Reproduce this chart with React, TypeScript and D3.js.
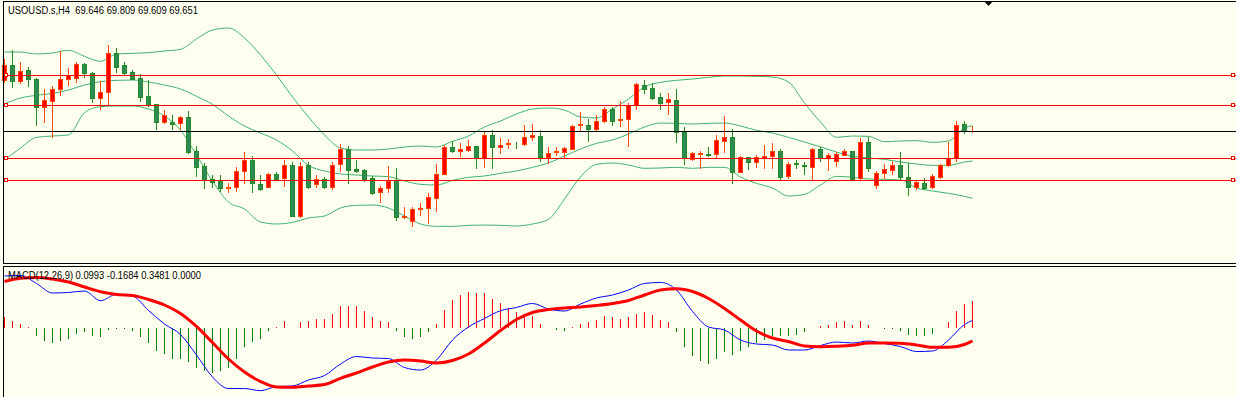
import React from 'react';
import * as d3 from 'd3';

const W = 1236;
const H = 397;

const symbolLabel = 'USOUSD.s,H4  69.646 69.809 69.609 69.651';
const macdLabel = 'MACD(12,26,9) 0.0993 -0.1684 0.3481 0.0000';

// H4 candles, oldest first
const opens = [
  71.18, 71.63, 71.15, 71.48, 71.21, 70.37, 70.55, 70.91, 71.21, 71.24,
  71.66, 71.39, 70.64, 70.82, 71.99, 71.63, 71.42, 71.24, 70.70, 70.46,
  69.92, 69.92, 69.89, 70.07, 69.05, 68.60, 68.21, 68.15, 67.94, 67.97,
  68.45, 68.78, 68.06, 67.97, 68.36, 68.24, 68.63, 67.10, 68.63, 68.06,
  68.21, 67.97, 68.66, 69.11, 68.51, 68.48, 68.24, 67.82, 67.94, 68.18,
  67.07, 66.95, 67.31, 67.34, 67.64, 68.36, 69.17, 69.05, 69.08, 69.20,
  68.84, 69.53, 69.17, 69.26, 69.30, 69.26, 69.47, 69.50, 68.87, 69.03,
  69.03, 69.11, 69.83, 69.83, 69.71, 69.95, 70.31, 69.97, 70.01, 70.43,
  71.03, 70.94, 70.67, 70.52, 70.58, 69.62, 68.81, 68.96, 68.96, 68.96,
  69.35, 69.47, 68.42, 68.87, 68.72, 68.84, 68.90, 69.05, 68.30, 68.68,
  68.63, 68.57, 69.11, 68.84, 68.75, 68.94, 69.05, 68.24, 69.32, 68.03,
  68.39, 68.48, 68.63, 68.27, 67.97, 68.09, 67.97, 68.27, 68.63, 68.84,
  69.86, 69.646,
];
const highs = [
  71.81, 72.08, 71.72, 71.57, 71.24, 70.91, 71.00, 72.05, 71.54, 71.72,
  71.69, 71.42, 71.15, 72.23, 72.14, 71.72, 71.48, 71.36, 71.18, 70.46,
  70.28, 70.13, 70.10, 70.25, 69.20, 68.69, 68.33, 68.33, 68.09, 68.57,
  69.02, 68.90, 68.33, 68.39, 68.42, 68.78, 68.72, 68.72, 68.72, 68.33,
  68.27, 68.72, 69.26, 69.20, 68.78, 68.51, 68.30, 68.00, 68.60, 68.54,
  67.37, 67.37, 67.49, 67.79, 68.66, 69.23, 69.35, 69.29, 69.38, 69.20,
  69.62, 69.68, 69.44, 69.41, 69.33, 69.83, 69.86, 69.68, 69.17, 69.17,
  69.16, 69.83, 70.22, 70.01, 70.13, 70.37, 70.37, 70.55, 70.49, 71.09,
  71.18, 71.09, 70.79, 70.79, 70.91, 69.77, 69.02, 69.05, 69.17, 69.53,
  70.10, 69.71, 68.90, 68.87, 68.93, 69.23, 69.29, 69.11, 68.72, 68.78,
  68.72, 69.14, 69.17, 68.99, 69.02, 69.11, 69.05, 69.44, 69.47, 68.45,
  68.66, 68.75, 69.02, 68.69, 68.18, 68.24, 68.36, 68.66, 69.32, 69.95,
  69.95, 69.809,
];
const lows = [
  71.12, 70.97, 71.09, 71.00, 69.83, 69.92, 69.47, 70.73, 71.03, 71.12,
  71.27, 70.52, 70.31, 70.43, 71.42, 71.36, 71.20, 70.55, 70.40, 69.71,
  69.89, 69.71, 69.71, 68.99, 68.30, 67.94, 67.97, 67.85, 67.82, 67.85,
  68.09, 67.82, 67.88, 67.96, 68.18, 68.00, 67.09, 67.07, 67.94, 67.97,
  67.94, 67.91, 68.45, 68.09, 68.42, 68.15, 67.76, 67.52, 67.82, 66.98,
  67.04, 66.80, 67.13, 66.89, 67.25, 68.36, 69.02, 68.90, 69.05, 68.54,
  68.57, 68.54, 68.99, 69.14, 69.15, 69.23, 69.38, 68.75, 68.69, 68.93,
  68.87, 69.11, 69.65, 69.35, 69.68, 69.92, 69.83, 69.80, 69.20, 70.31,
  70.79, 70.61, 70.31, 70.16, 69.32, 68.66, 68.78, 68.54, 68.90, 68.87,
  69.02, 68.09, 68.42, 68.51, 68.57, 68.54, 68.54, 68.18, 68.24, 68.54,
  68.36, 68.21, 68.75, 68.48, 68.60, 68.93, 68.18, 68.18, 68.45, 67.94,
  68.24, 68.36, 68.18, 67.73, 67.91, 67.91, 67.94, 68.24, 68.60, 68.75,
  69.59, 69.609,
];
const closes = [
  71.63, 71.15, 71.45, 71.21, 70.37, 70.58, 70.91, 71.21, 71.33, 71.66,
  71.39, 70.64, 70.82, 71.99, 71.57, 71.39, 71.21, 70.67, 70.43, 69.92,
  70.13, 69.86, 70.07, 69.02, 68.57, 68.18, 68.12, 67.94, 67.96, 68.45,
  68.78, 68.09, 67.91, 68.36, 68.21, 68.63, 67.10, 68.60, 67.97, 68.21,
  67.97, 68.63, 69.11, 68.48, 68.45, 68.18, 67.79, 67.94, 68.15, 67.07,
  67.10, 67.31, 67.34, 67.67, 68.36, 69.17, 69.05, 69.11, 69.20, 68.84,
  69.53, 69.17, 69.23, 69.29, 69.28, 69.47, 69.53, 68.87, 68.99, 69.05,
  69.14, 69.80, 69.86, 69.71, 69.95, 70.31, 69.95, 70.00, 70.43, 71.06,
  70.91, 70.64, 70.49, 70.61, 69.62, 68.84, 68.99, 68.99, 68.93, 69.38,
  69.47, 68.42, 68.87, 68.72, 68.87, 68.90, 69.05, 68.27, 68.66, 68.66,
  68.60, 69.11, 68.84, 68.93, 68.96, 69.05, 68.21, 69.32, 68.54, 68.39,
  68.51, 68.63, 68.27, 67.97, 68.12, 67.94, 68.30, 68.63, 68.84, 69.83,
  69.65, 69.651,
];

// indicator lines read every second bar plus the last one
const sampleBars = [...d3.range(0, 121, 2), 121];

const bbUpper = [
  72.02, 72.02, 71.96, 71.99, 72.07, 71.89, 71.74, 71.96, 71.98, 72.00,
  72.05, 72.10, 72.41, 72.68, 72.74, 72.44, 71.93, 71.33, 70.67, 70.07,
  69.53, 69.14, 69.08, 69.08, 69.11, 69.17, 69.20, 69.17, 69.34, 69.50,
  69.77, 69.95, 70.16, 70.31, 70.34, 70.28, 70.07, 70.04, 70.31, 70.61,
  70.97, 71.11, 71.17, 71.21, 71.26, 71.30, 71.30, 71.29, 71.27, 71.12,
  70.49, 69.92, 69.46, 69.50, 69.49, 69.33, 69.35, 69.36, 69.31, 69.35,
  69.74, 69.81,
];
const bbMiddle = [
  70.46, 70.64, 70.72, 70.78, 70.88, 71.03, 71.13, 71.17, 71.18, 71.12,
  71.03, 70.91, 70.69, 70.45, 70.10, 69.80, 69.59, 69.38, 69.05, 68.62,
  68.45, 68.36, 68.33, 68.30, 68.28, 68.15, 68.05, 68.03, 68.17, 68.26,
  68.30, 68.38, 68.45, 68.56, 68.69, 68.90, 69.11, 69.28, 69.38, 69.56,
  69.77, 69.89, 69.88, 69.86, 69.88, 69.89, 69.80, 69.67, 69.59, 69.46,
  69.32, 69.17, 69.02, 68.89, 68.84, 68.80, 68.72, 68.66, 68.62, 68.62,
  68.72, 68.75,
];
const bbLower = [
  68.78, 69.14, 69.46, 69.50, 69.53, 70.20, 70.38, 70.40, 70.40, 70.31,
  70.10, 69.68, 68.93, 68.15, 67.52, 67.31, 66.92, 66.86, 66.91, 67.04,
  67.10, 67.34, 67.42, 67.43, 67.34, 67.10, 66.86, 66.79, 66.79, 66.82,
  66.83, 66.82, 66.80, 66.86, 67.00, 67.61, 68.27, 68.65, 68.69, 68.63,
  68.53, 68.54, 68.56, 68.53, 68.56, 68.56, 68.27, 68.08, 67.94, 67.70,
  67.75, 68.03, 68.29, 68.26, 68.21, 68.20, 68.18, 67.94, 67.85, 67.78,
  67.69, 67.63,
];

const macdHist = [
  0.143, 0.087, 0.056, 0.01, -0.108, -0.173, -0.195, -0.173, -0.139, -0.074,
  -0.048, -0.108, -0.117, -0.03, -0.009, -0.013, -0.043, -0.121, -0.195, -0.303,
  -0.338, -0.399, -0.399, -0.442, -0.52, -0.563, -0.585, -0.563, -0.52, -0.399,
  -0.247, -0.186, -0.139, -0.035, 0.01, 0.095, 0.0, 0.078, 0.087, 0.121,
  0.121, 0.186, 0.282, 0.282, 0.282, 0.225, 0.139, 0.087, 0.074, -0.043,
  -0.117, -0.139, -0.117, -0.056, 0.056, 0.238, 0.36, 0.433, 0.472, 0.455,
  0.455, 0.381, 0.325, 0.26, 0.204, 0.186, 0.152, 0.056, 0.0, -0.03,
  -0.043, 0.01, 0.056, 0.074, 0.1, 0.152, 0.139, 0.121, 0.139, 0.186,
  0.204, 0.173, 0.108, 0.074, -0.056, -0.251, -0.368, -0.433, -0.464, -0.399,
  -0.316, -0.355, -0.303, -0.251, -0.195, -0.152, -0.1, -0.108, -0.1, -0.087,
  -0.056, 0.0, 0.022, 0.043, 0.074, 0.095, 0.035, 0.087, 0.043, 0.0,
  -0.009, -0.009, -0.035, -0.087, -0.1, -0.108, -0.074, 0.0, 0.074, 0.225,
  0.316, 0.3481,
];
const macdMain = [
  0.676, 0.683, 0.579, 0.455, 0.462, 0.481, 0.355, 0.438, 0.416, 0.228,
  0.052, -0.085, -0.351, -0.637, -0.787, -0.787, -0.815, -0.761, -0.754, -0.676,
  -0.618, -0.468, -0.371, -0.39, -0.397, -0.514, -0.546, -0.416, -0.156, 0.013,
  0.124, 0.225, 0.267, 0.319, 0.247, 0.221, 0.312, 0.39, 0.429, 0.494,
  0.579, 0.592, 0.494, 0.215, 0.013, -0.026, -0.156, -0.208, -0.221, -0.286,
  -0.286, -0.228, -0.182, -0.195, -0.169, -0.202, -0.241, -0.306, -0.299, -0.156,
  0.046, 0.0993,
];
const macdSignal = [
  0.605, 0.646, 0.657, 0.637, 0.598, 0.533, 0.472, 0.436, 0.423, 0.371,
  0.299, 0.189, 0.02, -0.189, -0.403, -0.572, -0.696, -0.767, -0.771, -0.754,
  -0.735, -0.654, -0.585, -0.507, -0.442, -0.416, -0.429, -0.455, -0.423, -0.338,
  -0.195, -0.033, 0.111, 0.202, 0.241, 0.26, 0.273, 0.293, 0.319, 0.358,
  0.429, 0.494, 0.511, 0.475, 0.384, 0.254, 0.104, -0.039, -0.13, -0.176,
  -0.234, -0.243, -0.238, -0.225, -0.195, -0.195, -0.199, -0.221, -0.251, -0.251,
  -0.215, -0.1684,
];

// horizontal lines drawn on the chart
const levelPrices = [71.33, 70.43, 68.84, 68.18];
const bidPrice = 69.651;

const BG = '#fffff0';
const BULL_FILL = '#ff0000';
const BULL_LINE = '#ff4500';
const BEAR_FILL = '#2e8b57';
const BEAR_LINE = '#228b22';
const BAND = '#3cb371';

const App: React.FC = () => {
  const x = d3.scaleLinear().domain([0, 121]).range([4.5, 972.5]);
  const y = d3.scaleLinear().domain([73.58, 65.78]).range([0, 260]);
  const ym = d3.scaleLinear().domain([0.806, -0.897]).range([266, 397]);
  const zeroY = Math.round(ym(0));
  const snap = (v: number) => Math.round(v) + 0.5;

  const bandLine = (vals: number[]) =>
    d3.line<number>()
      .x((_, k) => x(sampleBars[k]))
      .y(v => y(v))
      .curve(d3.curveMonotoneX)(vals) || '';
  const macdLine = (vals: number[]) =>
    d3.line<number>()
      .x((_, k) => x(sampleBars[k]))
      .y(v => ym(v))
      .curve(d3.curveMonotoneX)(vals) || '';

  return (
    <svg width={W} height={H} style={{ position: 'absolute', left: 0, top: 0, display: 'block' }}>
      <rect x={0} y={0} width={W} height={H} fill={BG} />

      {/* bollinger bands behind the candles */}
      <g fill="none" stroke={BAND} strokeWidth={1}>
        <path d={bandLine(bbUpper)} />
        <path d={bandLine(bbMiddle)} />
        <path d={bandLine(bbLower)} />
      </g>

      {/* candles */}
      <g>
        {opens.map((o, i) => {
          const c = closes[i];
          const bull = c >= o;
          const cx = x(i);
          const yh = Math.round(y(highs[i]));
          const yl = Math.round(y(lows[i]));
          const top = snap(y(Math.max(o, c)));
          const bot = snap(y(Math.min(o, c)));
          return (
            <g key={i}>
              <rect x={cx - 0.5} y={yh} width={1} height={yl - yh + 1} fill={bull ? BULL_LINE : BEAR_LINE} />
              <rect x={cx - 2} y={top} width={4} height={Math.max(0, bot - top)}
                fill={bull ? BULL_FILL : BEAR_FILL} stroke={bull ? BULL_LINE : BEAR_LINE} strokeWidth={1} />
            </g>
          );
        })}
      </g>

      {/* level lines with their anchors */}
      {levelPrices.map((p, k) => {
        const ly = snap(y(p));
        return (
          <g key={k}>
            <line x1={3} x2={W} y1={ly} y2={ly} stroke="#ff0000" strokeWidth={1} />
            <rect x={4.5} y={ly - 2} width={3} height={3} fill={BG} stroke="#ff0000" />
            <rect x={1231.5} y={ly - 2} width={3} height={3} fill={BG} stroke="#ff0000" />
          </g>
        );
      })}
      <line x1={3} x2={W} y1={snap(y(bidPrice))} y2={snap(y(bidPrice))} stroke="#000" strokeWidth={1} />

      {/* MACD histogram */}
      <g>
        {macdHist.map((v, i) => {
          if (v === 0) return null;
          const vy = Math.round(ym(v));
          return v > 0 ? (
            <rect key={i} x={x(i) - 0.5} y={vy} width={1} height={zeroY - vy} fill="#ff0000" />
          ) : (
            <rect key={i} x={x(i) - 0.5} y={zeroY} width={1} height={vy - zeroY} fill="#008000" />
          );
        })}
      </g>
      <path d={macdLine(macdMain)} fill="none" stroke="#0000ff" strokeWidth={1} />
      <path d={macdLine(macdSignal)} fill="none" stroke="#ff0000" strokeWidth={3} />

      {/* frame */}
      <g stroke="#000" strokeWidth={1} shapeRendering="crispEdges">
        <line x1={3} x2={W} y1={1.5} y2={1.5} />
        <line x1={3.5} x2={3.5} y1={1} y2={264} />
        <line x1={3} x2={W} y1={263.5} y2={263.5} />
        <line x1={3} x2={W} y1={266.5} y2={266.5} />
        <line x1={3.5} x2={3.5} y1={266} y2={H} />
      </g>
      <polygon points="984,1 993,1 988.5,6" fill="#000" />

      <text x={8} y={14} fontFamily="'Liberation Sans', Arial, sans-serif" fontSize={10}
        textLength={190} lengthAdjust="spacingAndGlyphs" style={{ whiteSpace: 'pre' }} fill="#000">
        {symbolLabel}
      </text>
      <text x={8} y={279} fontFamily="'Liberation Sans', Arial, sans-serif" fontSize={10}
        textLength={193} lengthAdjust="spacingAndGlyphs" fill="#000">
        {macdLabel}
      </text>
    </svg>
  );
};

export default App;
